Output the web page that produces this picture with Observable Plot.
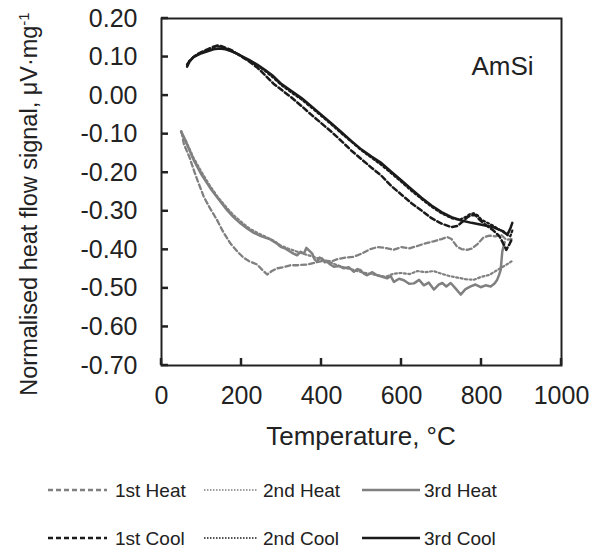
<!DOCTYPE html>
<html><head><meta charset="utf-8">
<script src="https://cdn.jsdelivr.net/npm/d3@7"></script>
<script src="https://cdn.jsdelivr.net/npm/@observablehq/plot@0.6"></script>
<style>
body{margin:0;background:#fff;font-family:"Liberation Sans",Arial,sans-serif;}
#chart{width:602px;}
#chart svg{display:block;}
</style></head><body><div id="chart"></div>
<script>
// ---- data ----
const xTicks = [0, 200, 400, 600, 800, 1000];
const yTicks = [0.2, 0.1, 0.0, -0.1, -0.2, -0.3, -0.4, -0.5, -0.6, -0.7];
const seriesNames = ["1st Heat", "2nd Heat", "3rd Heat", "1st Cool", "2nd Cool", "3rd Cool"];

const heat1T = [50,56,70,81,90,106,120,139,155,172,190,206,220,239,252,264,276,289,305,322,340,364,385,406,425,440,460,480,500,522,540,560,580,600,620,640,660,680,700,715,725,739,750,764,775,790,805,820,835,850,862,875];
const heat1V = [-0.093,-0.126,-0.16,-0.194,-0.22,-0.263,-0.29,-0.323,-0.355,-0.383,-0.405,-0.421,-0.43,-0.438,-0.452,-0.464,-0.455,-0.448,-0.445,-0.44,-0.44,-0.438,-0.433,-0.428,-0.43,-0.424,-0.42,-0.418,-0.41,-0.398,-0.393,-0.395,-0.4,-0.393,-0.396,-0.39,-0.383,-0.378,-0.372,-0.367,-0.372,-0.392,-0.398,-0.4,-0.397,-0.385,-0.368,-0.363,-0.365,-0.362,-0.374,-0.372];

const heat2T = [50,60,70,80,100,120,140,160,180,200,220,240,260,280,300,320,340,360,380,400,420,440,460,480,500,520,540,560,580,600,620,640,660,680,700,720,740,760,780,800,820,840,860,875];
const heat2V = [-0.095,-0.115,-0.138,-0.161,-0.198,-0.232,-0.262,-0.287,-0.31,-0.328,-0.345,-0.356,-0.366,-0.376,-0.39,-0.398,-0.405,-0.412,-0.418,-0.425,-0.432,-0.44,-0.447,-0.452,-0.458,-0.462,-0.466,-0.47,-0.462,-0.46,-0.463,-0.455,-0.458,-0.455,-0.462,-0.468,-0.472,-0.476,-0.478,-0.47,-0.465,-0.452,-0.44,-0.43];

const heat3T = [49,60,70,81,100,122,140,164,180,198,215,231,250,272,290,298,310,322,330,339,348,356,362,368,377,383,389,395,402,408,414,422,431,444,456,468,481,490,498,506,514,527,539,552,564,573,581,594,606,619,631,644,656,668,681,693,702,712,723,735,748,760,773,785,798,810,823,832,839,844,848,852,858];
const heat3V = [-0.093,-0.118,-0.142,-0.168,-0.205,-0.24,-0.265,-0.297,-0.315,-0.332,-0.345,-0.356,-0.365,-0.373,-0.385,-0.392,-0.397,-0.405,-0.41,-0.414,-0.405,-0.41,-0.395,-0.401,-0.41,-0.425,-0.431,-0.42,-0.423,-0.432,-0.431,-0.438,-0.444,-0.442,-0.448,-0.445,-0.457,-0.45,-0.453,-0.462,-0.466,-0.458,-0.466,-0.47,-0.474,-0.468,-0.483,-0.475,-0.479,-0.488,-0.487,-0.478,-0.492,-0.485,-0.503,-0.49,-0.486,-0.495,-0.486,-0.5,-0.516,-0.502,-0.495,-0.49,-0.497,-0.492,-0.495,-0.488,-0.478,-0.465,-0.452,-0.404,-0.38];

const cool1T = [64,70,80,90,100,115,130,140,150,160,175,190,205,220,240,260,280,300,325,350,375,400,425,450,475,500,525,550,575,600,625,650,675,700,725,740,755,765,775,785,795,810,830,845,855,862,870,877];
const cool1V = [0.08,0.09,0.10,0.108,0.113,0.12,0.127,0.13,0.128,0.124,0.118,0.108,0.098,0.088,0.072,0.052,0.031,0.015,-0.005,-0.027,-0.05,-0.072,-0.094,-0.118,-0.143,-0.165,-0.187,-0.208,-0.235,-0.257,-0.279,-0.298,-0.318,-0.332,-0.341,-0.338,-0.325,-0.315,-0.31,-0.31,-0.322,-0.335,-0.35,-0.365,-0.385,-0.4,-0.385,-0.37];

const cool2T = [64,70,80,90,100,115,130,140,150,165,180,200,220,240,260,280,300,325,350,375,400,425,450,475,500,525,550,575,600,625,650,675,700,725,745,760,770,780,790,800,815,830,845,855,865,872,877];
const cool2V = [0.08,0.09,0.1,0.107,0.112,0.118,0.124,0.128,0.126,0.12,0.113,0.102,0.09,0.078,0.063,0.046,0.027,0.008,-0.01,-0.031,-0.053,-0.075,-0.098,-0.12,-0.142,-0.161,-0.18,-0.202,-0.224,-0.247,-0.268,-0.288,-0.305,-0.318,-0.322,-0.315,-0.308,-0.305,-0.31,-0.322,-0.33,-0.338,-0.348,-0.352,-0.362,-0.365,-0.35];

const cool3T = [64,70,80,90,100,115,130,145,160,175,190,205,220,240,260,280,300,325,350,375,400,425,450,475,500,525,550,575,600,625,650,675,700,725,750,775,800,825,850,858,865,872,877];
const cool3V = [0.075,0.088,0.10,0.105,0.11,0.115,0.12,0.122,0.12,0.115,0.108,0.10,0.092,0.08,0.066,0.05,0.03,0.012,-0.006,-0.028,-0.05,-0.072,-0.095,-0.118,-0.14,-0.158,-0.175,-0.198,-0.22,-0.243,-0.265,-0.285,-0.302,-0.315,-0.324,-0.33,-0.335,-0.34,-0.35,-0.356,-0.36,-0.345,-0.33];

// ---- styles ----
const GRAY = "#808080", BLACK = "#1a1a1a";
const styles = {
  "1st Heat": {stroke: GRAY, dash: "5,3", width: 2.3},
  "2nd Heat": {stroke: GRAY, dash: "2,2.5", width: 2.2},
  "3rd Heat": {stroke: GRAY, dash: null, width: 2.5},
  "1st Cool": {stroke: BLACK, dash: "5,3", width: 2.5},
  "2nd Cool": {stroke: BLACK, dash: "2,2.5", width: 2.2},
  "3rd Cool": {stroke: BLACK, dash: null, width: 2.5}
};
const seriesData = {
  "1st Heat": [heat1T, heat1V], "2nd Heat": [heat2T, heat2V], "3rd Heat": [heat3T, heat3V],
  "1st Cool": [cool1T, cool1V], "2nd Cool": [cool2T, cool2V], "3rd Cool": [cool3T, cool3V]
};
const rows = seriesNames.flatMap(name => {
  const [T, V] = seriesData[name];
  return T.map((t, i) => ({series: name, t, v: V[i]}));
});

const lines = seriesNames.map(name => {
  const s = styles[name];
  return Plot.line(rows.filter(d => d.series === name), {
    x: "t", y: "v", stroke: s.stroke, strokeWidth: s.width,
    strokeDasharray: s.dash, strokeLinejoin: "round"
  });
});

const W = 602, H = 460, ML = 161, MR = 41, MT = 18, MB = 95;
const TICK = 7;

const plot = Plot.plot({
  width: W, height: H,
  marginLeft: ML, marginRight: MR, marginTop: MT, marginBottom: MB,
  style: {fontFamily: "'Liberation Sans', Arial, sans-serif", color: "#222", background: "#fff"},
  x: {domain: [0, 1000]},
  y: {domain: [-0.7, 0.2]},
  marks: [
    ...lines,
    Plot.axisY(yTicks, {tickSize: 0, tickPadding: 24, tickFormat: d => d.toFixed(2), fontSize: 25, label: null, fill: "#222"}),
    Plot.axisX(xTicks, {tickSize: 0, tickPadding: 21, tickFormat: d => String(d), fontSize: 25, label: null, fill: "#222"}),
    Plot.frame({stroke: "#222", strokeWidth: 2}),
    Plot.text(["AmSi"], {frameAnchor: "top-right", text: d => d, dx: -28, dy: 38, textAnchor: "end", fontSize: 26, fill: "#222"})
  ]
});

const svg = d3.select(plot);
const xs = plot.scale("x"), ys = plot.scale("y");
// inward tick marks, positioned through Plot's own scales
const tg = svg.append("g").attr("stroke", "#222").attr("stroke-width", 2.5);
yTicks.forEach(v => {
  const y = ys.apply(v);
  tg.append("line").attr("x1", ML).attr("x2", ML + TICK).attr("y1", y).attr("y2", y);
});
xTicks.forEach(v => {
  const x = xs.apply(v);
  tg.append("line").attr("x1", x).attr("x2", x).attr("y1", H - MB).attr("y2", H - MB - TICK);
});

svg.append("text")
  .attr("x", 361).attr("y", 445)
  .attr("text-anchor", "middle").attr("font-size", 26).attr("fill", "#222")
  .text("Temperature, °C");
const yl = svg.append("text")
  .attr("transform", "translate(37,204) rotate(-90)")
  .attr("text-anchor", "middle").attr("font-size", 23.5).attr("fill", "#222");
yl.append("tspan").text("Normalised heat flow signal, μV·mg");
yl.append("tspan").attr("dy", "-0.55em").attr("font-size", 15).text("-1");

document.getElementById("chart").appendChild(plot);

// ---- legend ----
const leg = d3.select("#chart").append("svg").attr("width", 602).attr("height", 91)
  .style("font-family", "'Liberation Sans', Arial, sans-serif");
const cols = [{x1: 48, x2: 107, tx: 115}, {x1: 204, x2: 258, tx: 263}, {x1: 362, x2: 420, tx: 424}];
const rowY = [30, 78];
seriesNames.forEach((name, i) => {
  const c = cols[i % 3], y = rowY[Math.floor(i / 3)], s = styles[name];
  const dotted = s.dash === "2,2.5";
  leg.append("line").attr("x1", c.x1).attr("x2", c.x2).attr("y1", y).attr("y2", y)
    .attr("stroke", s.stroke).attr("stroke-width", dotted ? 1.6 : s.width)
    .attr("stroke-dasharray", dotted ? "1.5,1.5" : s.dash);
  leg.append("text").attr("x", c.tx).attr("y", y).attr("dy", "0.36em")
    .attr("font-size", 19).attr("fill", "#222").text(name);
});
</script>
</body></html>
